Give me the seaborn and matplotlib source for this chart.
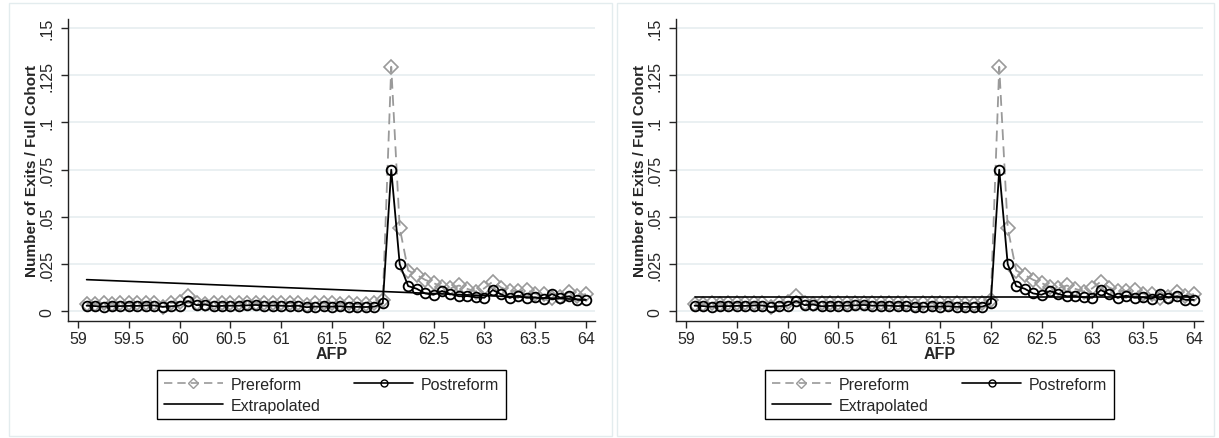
import seaborn as sns
from matplotlib import pyplot as plt
from matplotlib.lines import Line2D
from matplotlib.patches import Rectangle

sns.set_style("white")
plt.rcParams["font.family"] = ["Liberation Sans", "DejaVu Sans"]

# AFP in years, monthly steps from 59 1/12 to 64
afp = [round(59 + m / 12, 4) for m in range(1, 61)]

prereform = [
    0.0040, 0.0038, 0.0045, 0.0040, 0.0042, 0.0043, 0.0042, 0.0044, 0.0045, 0.0022,
    0.0045, 0.0048, 0.0080, 0.0042, 0.0040, 0.0045, 0.0046, 0.0045, 0.0046, 0.0046,
    0.0044, 0.0043, 0.0045, 0.0044, 0.0043, 0.0045, 0.0035, 0.0043, 0.0042, 0.0044,
    0.0040, 0.0045, 0.0038, 0.0037, 0.0042, 0.0060, 0.1295, 0.0442, 0.0216, 0.0193,
    0.0167, 0.0150, 0.0130, 0.0122, 0.0137, 0.0119, 0.0105, 0.0122, 0.0158, 0.0126,
    0.0108, 0.0108, 0.0112, 0.0094, 0.0090, 0.0069, 0.0074, 0.0101, 0.0080, 0.0092,
]

postreform = [
    0.0030, 0.0028, 0.0025, 0.0027, 0.0028, 0.0029, 0.0029, 0.0031, 0.0031, 0.0024,
    0.0027, 0.0031, 0.0055, 0.0033, 0.0036, 0.0027, 0.0029, 0.0030, 0.0030, 0.0032,
    0.0034, 0.0030, 0.0031, 0.0030, 0.0028, 0.0030, 0.0022, 0.0025, 0.0026, 0.0025,
    0.0027, 0.0024, 0.0024, 0.0023, 0.0025, 0.0042, 0.0750, 0.0250, 0.0134, 0.0120,
    0.0095, 0.0088, 0.0108, 0.0092, 0.0080, 0.0081, 0.0075, 0.0072, 0.0113, 0.0090,
    0.0072, 0.0083, 0.0072, 0.0074, 0.0067, 0.0092, 0.0072, 0.0080, 0.0061, 0.0061,
]

# extrapolated counterfactual: endpoints of the straight line in each panel
extrap_x = [59.0833, 64.0]
extrap_left = [0.0168, 0.0062]
extrap_right = [0.0078, 0.0078]

yticks = [0, 0.025, 0.05, 0.075, 0.1, 0.125, 0.15]
ytick_labels = ["0", ".025", ".05", ".075", ".1", ".125", ".15"]
xticks = [59, 59.5, 60, 60.5, 61, 61.5, 62, 62.5, 63, 63.5, 64]
xtick_labels = ["59", "59.5", "60", "60.5", "61", "61.5", "62", "62.5", "63", "63.5", "64"]

GRAY = "#9a9a9a"
GRID = "#e6eef0"
FS = 11.5

W, H = 1219, 439
fig = plt.figure(figsize=(W / 100, H / 100), dpi=100)


def panel(x0, extrap_y, frame):
    fig.patches.append(Rectangle((frame[0] / W, 1 - frame[3] / H),
                                 (frame[2] - frame[0]) / W, (frame[3] - frame[1]) / H,
                                 transform=fig.transFigure, fill=False,
                                 edgecolor="#e3ecee", lw=1))
    ax = fig.add_axes([x0 / W, 1 - 322 / H, 527 / W, 302 / H])
    for y in yticks:
        ax.axhline(y, color=GRID, lw=1.2, zorder=0)

    sns.lineplot(x=afp, y=prereform, ax=ax, color=GRAY, linestyle=(0, (6, 3.5)), lw=1.3,
                 marker="D", markersize=7, markerfacecolor="none", markeredgecolor=GRAY,
                 markeredgewidth=1.2, zorder=2)
    sns.lineplot(x=afp, y=postreform, ax=ax, color="black", lw=1.3,
                 marker="o", markersize=7, markerfacecolor="none", markeredgecolor="black",
                 markeredgewidth=1.3, zorder=3)
    sns.lineplot(x=extrap_x, y=extrap_y, ax=ax, color="black", lw=1.2, zorder=4)

    ax.set_xlim(58.90, 64.09)
    ax.set_ylim(-0.0051, 0.1548)
    ax.set_xticks(xticks, xtick_labels, fontsize=FS)
    ax.set_yticks(yticks, ytick_labels, fontsize=FS)
    ax.tick_params(axis="y", labelrotation=90, direction="out", length=5, width=1, pad=5, left=True)
    ax.tick_params(axis="x", direction="out", length=5, width=1, pad=2, bottom=True)
    for lbl in ax.get_yticklabels():
        lbl.set_va("center")
    for s in ["top", "right"]:
        ax.spines[s].set_visible(False)
    for s in ["left", "bottom"]:
        ax.spines[s].set_color("#222222")
        ax.spines[s].set_linewidth(1)
    ax.set_xlabel("AFP", fontsize=11.5, fontweight="bold", labelpad=0)
    ax.set_ylabel("Number of Exits / Full Cohort", fontsize=11, fontweight="bold", labelpad=0)

    pre_h = Line2D([], [], color=GRAY, linestyle=(0, (5, 3)), lw=1.2, marker="D", markersize=5.5,
                   markerfacecolor="none", markeredgecolor=GRAY)
    post_h = Line2D([], [], color="black", lw=1.2, marker="o", markersize=5,
                    markerfacecolor="none", markeredgecolor="black")
    ext_h = Line2D([], [], color="black", lw=1.2)
    # column-major fill: gives rows (Prereform, Postreform), (Extrapolated)
    leg = ax.legend([pre_h, ext_h, post_h], ["Prereform", "Extrapolated", "Postreform"], ncol=2,
                    loc="upper center", bbox_to_anchor=(0.5, -0.163), fontsize=11.5,
                    frameon=True, fancybox=False, framealpha=1, edgecolor="black",
                    handlelength=3.7, handletextpad=0.5, columnspacing=2.1,
                    borderpad=0.4, labelspacing=0.4, numpoints=1, borderaxespad=0)
    leg.get_frame().set_linewidth(1)
    return ax


panel(68, extrap_left, (9, 4, 612, 437))
panel(676, extrap_right, (617, 4, 1214, 437))

fig.savefig("out.png", dpi=100)
